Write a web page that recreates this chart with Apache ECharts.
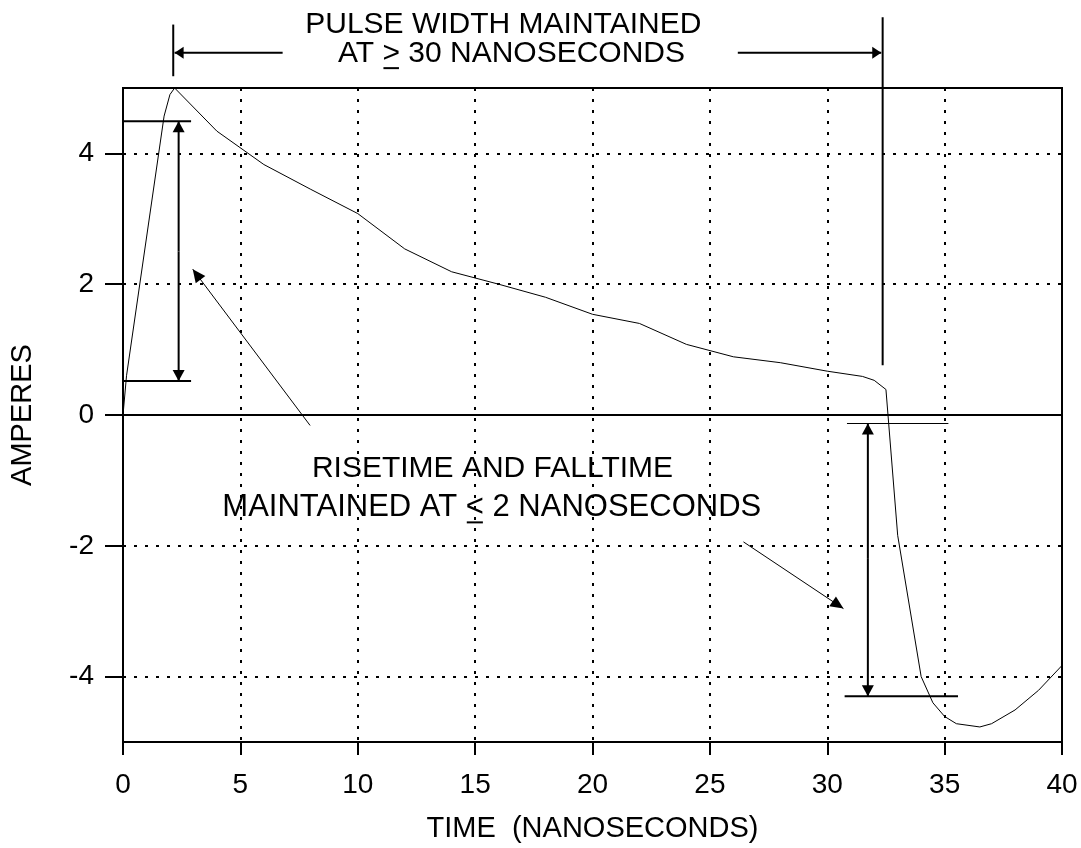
<!DOCTYPE html>
<html><head><meta charset="utf-8">
<script src="https://cdn.jsdelivr.net/npm/echarts@6/dist/echarts.min.js"></script>
<style>html,body{margin:0;padding:0;background:#fff}#c{width:1081px;height:848px}</style>
</head><body><div id="c"></div>
<script>
// ---- data ----
const timeNs  = [0, 0.15, 1.75, 2.0, 2.2, 4, 6, 8, 10, 12, 14, 16, 18, 20, 22, 24, 26, 28, 30, 31.5, 32, 32.5, 33, 34, 34.5, 35, 35.5, 36.5, 37, 38, 39, 40];
const amperes = [0, 0.6, 4.57, 4.9, 5.0, 4.34, 3.83, 3.45, 3.08, 2.54, 2.19, 2.0, 1.80, 1.54, 1.40, 1.08, 0.89, 0.80, 0.67, 0.59, 0.53, 0.39, -1.84, -4.0, -4.40, -4.61, -4.72, -4.77, -4.72, -4.51, -4.21, -3.83];
const yTicks = [-4, -2, 0, 2, 4];
const xTickStep = 5;
const xName = 'TIME  (NANOSECONDS)';
const yName = 'AMPERES';
const pulseText1 = 'PULSE WIDTH MAINTAINED';
const pulseText2 = ['AT ', '>', ' 30 NANOSECONDS'];
const riseText1 = 'RISETIME AND FALLTIME';
const riseText2 = ['MAINTAINED AT ', '<', ' 2 NANOSECONDS'];

// ---- chart ----
const FONT = '"Liberation Sans", Arial, Helvetica, sans-serif';
const chart = echarts.init(document.getElementById('c'), null, {renderer: 'canvas'});
const black = '#000';
const option = {
  animation: false,
  backgroundColor: '#fff',
  grid: {left: 122, right: 19, top: 88, bottom: 102, show: true, borderColor: black, borderWidth: 2, backgroundColor: 'transparent'},
  xAxis: {
    type: 'value', min: 0, max: 40, interval: xTickStep,
    name: xName, nameLocation: 'middle', nameGap: 72,
    nameTextStyle: {fontSize: 29, color: black, fontFamily: FONT},
    axisLine: {show: true, onZero: false, lineStyle: {color: black, width: 2}},
    axisTick: {show: true, inside: false, length: 13, lineStyle: {color: black, width: 2}},
    axisLabel: {fontSize: 28, color: black, margin: 29, fontFamily: FONT},
    splitLine: {show: true, lineStyle: {color: black, width: 2, type: [3, 8]}}
  },
  yAxis: {
    type: 'value', min: -5, max: 5,
    name: yName, nameLocation: 'middle', nameRotate: 90, nameGap: 86,
    nameTextStyle: {fontSize: 29, color: black, fontFamily: FONT},
    axisLine: {show: true, onZero: false, lineStyle: {color: black, width: 2}},
    axisTick: {show: true, inside: false, length: 18, customValues: yTicks, lineStyle: {color: black, width: 2}},
    axisLabel: {fontSize: 28, color: black, margin: 29, fontFamily: FONT, customValues: yTicks},
    splitLine: {show: true, lineStyle: {color: black, width: 2, type: [3, 8]}}
  },
  series: [{
    type: 'line',
    data: timeNs.map((t, i) => [t, amperes[i]]),
    symbol: 'none',
    lineStyle: {color: black, width: 1},
    clip: false,
    markLine: {
      silent: true, symbol: ['none', 'none'], label: {show: false},
      lineStyle: {color: black, width: 2, type: 'solid'},
      data: [{yAxis: 0}]
    }
  }]
};
chart.setOption(option);

// ---- annotations (anchored in data coordinates) ----
const P = (p) => chart.convertToPixel({gridIndex: 0}, p);
const ctx = document.createElement('canvas').getContext('2d');
function tw(s, fs) { ctx.font = fs + 'px ' + FONT; return ctx.measureText(s).width; }

const g = [];
function line(a, b, w) {
  const A = P(a), B = P(b);
  g.push({type: 'line', shape: {x1: A[0], y1: A[1], x2: B[0], y2: B[1]}, style: {stroke: black, lineWidth: w}, z: 100});
}
function head(tipD, fromD, len, half) {
  const tip = P(tipD), from = P(fromD);
  const dx = tip[0] - from[0], dy = tip[1] - from[1];
  const d = Math.hypot(dx, dy), ux = dx / d, uy = dy / d;
  const bx = tip[0] - ux * len, by = tip[1] - uy * len;
  g.push({type: 'polygon', shape: {points: [tip, [bx - uy * half, by + ux * half], [bx + uy * half, by - ux * half]]}, style: {fill: black}, z: 101});
}
function arrow(from, to, w, len, half) { line(from, to, w); head(to, from, len, half); }
function text(s, at, fs) {
  const p = P(at);
  g.push({type: 'text', style: {text: s, x: p[0], y: p[1], fill: black, fontSize: fs, fontFamily: FONT, align: 'center', verticalAlign: 'middle'}, z: 102});
}
function textU(parts, at, fs) {
  const p = P(at);
  const widths = parts.map(s => tw(s, fs));
  const total = widths.reduce((a, b) => a + b, 0);
  let x = p[0] - total / 2;
  parts.forEach((s, i) => {
    g.push({type: 'text', style: {text: s, x: x, y: p[1], fill: black, fontSize: fs, fontFamily: FONT, align: 'left', verticalAlign: 'middle'}, z: 102});
    if (i === 1) {
      const uy = p[1] + fs * 0.36 + 4;
      g.push({type: 'line', shape: {x1: x + 1, y1: uy, x2: x + widths[i] - 1, y2: uy}, style: {stroke: black, lineWidth: 2}, z: 102});
    }
    x += widths[i];
  });
}

// pulse width bracket
line([2.14, 5.97], [2.14, 5.18], 2);
line([32.36, 6.08], [32.36, 0.76], 2);
arrow([6.8, 5.54], [2.2, 5.54], 2, 9, 6);
arrow([26.19, 5.54], [32.3, 5.54], 2, 9, 6);
text(pulseText1, [16.2, 5.97], 30);
textU(pulseText2, [16.55, 5.53], 30);

// rise time
line([0, 4.49], [2.9, 4.49], 2);
line([0, 0.52], [2.9, 0.52], 2);
arrow([2.37, 2.5], [2.37, 4.49], 2, 11, 6);
arrow([2.37, 2.5], [2.37, 0.52], 2, 11, 6);
arrow([7.97, -0.16], [2.97, 2.23], 1, 13, 6);

// fall time
line([30.84, -0.13], [35.16, -0.13], 1);
line([30.74, -4.30], [35.57, -4.30], 2);
arrow([31.73, -2.2], [31.73, -0.13], 2, 11, 6);
arrow([31.73, -2.2], [31.73, -4.30], 2, 11, 6);
arrow([26.43, -1.94], [30.69, -2.96], 1, 13, 6);

text(riseText1, [15.74, -0.82], 30);
textU(riseText2, [15.71, -1.41], 31);

chart.setOption({graphic: g});
</script></body></html>
